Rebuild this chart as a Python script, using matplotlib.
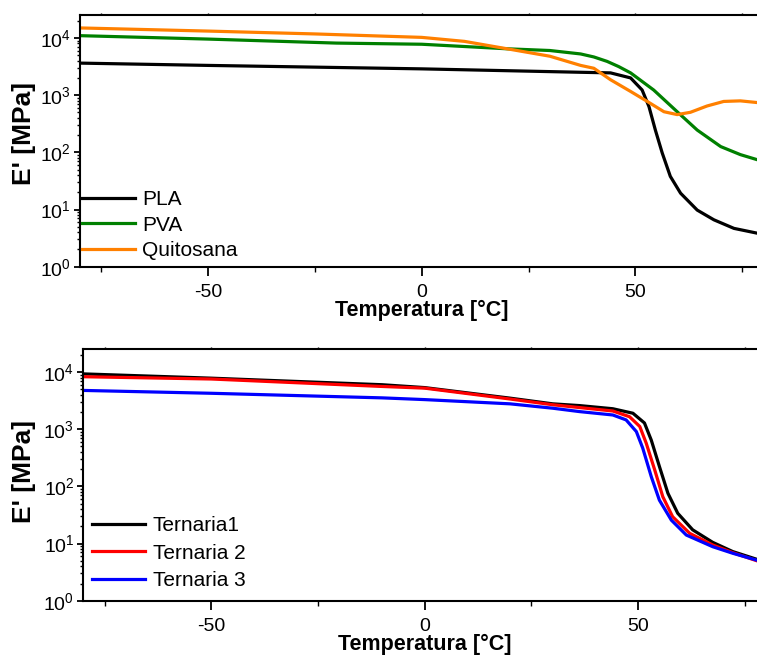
import matplotlib.pyplot as plt
import numpy as np

plt.rcParams['font.family'] = ['Liberation Sans', 'DejaVu Sans']
plt.rcParams['mathtext.fontset'] = 'custom'
plt.rcParams['mathtext.rm'] = 'Liberation Sans'
plt.rcParams['axes.unicode_minus'] = False

# top panel: pure polymers (temperature in degC, E' in MPa)
t_pla = [-80, -50, 0, 37.2, 44.2, 48.9, 51.6, 53.2, 54.7, 56.3, 58.2, 60.6, 64.5, 68.4, 73.1, 78.6, 80]
e_pla = [3630, 3310, 2880, 2510, 2450, 2000, 1230, 631, 245, 97.7, 38.0, 19.3, 9.77, 6.61, 4.68, 3.85, 3.67]

t_pva = [-80, -50, -20, 0, 20, 30, 37.2, 40.3, 43.4, 46.1, 48.9, 54.3, 59.8, 64.5, 70.0, 74.6, 78.6, 80]
e_pva = [10960, 9550, 8130, 7760, 6460, 6030, 5250, 4650, 3890, 3160, 2450, 1230, 513, 245, 126, 91.2, 74.1, 69.2]

t_qui = [-80, -50, -25, 0, 10, 20, 30, 37.2, 40.3, 44.2, 48.9, 52.8, 56.7, 59.8, 62.9, 66.8, 70.7, 74.6, 78.6, 80]
e_qui = [14960, 13180, 11750, 10230, 8710, 6460, 4790, 3310, 2950, 1860, 1160, 776, 513, 457, 501, 646, 776, 794, 741, 724]

# bottom panel: ternary blends
t_t1 = [-80, -50, -10, 0, 20, 30, 36.3, 44.1, 48.8, 51.5, 53.1, 55.0, 57.0, 59.3, 62.8, 67.5, 72.2, 77.8, 80]
e_t1 = [9330, 7850, 6030, 5370, 3510, 2790, 2600, 2290, 1910, 1290, 646, 224, 75.9, 33.9, 17.4, 10.5, 7.24, 5.31, 4.79]

t_t2 = [-80, -50, -10, 0, 20, 30, 36.3, 44.1, 48.0, 50.4, 51.9, 53.9, 55.8, 58.1, 62.1, 67.5, 72.2, 77.8, 80]
e_t2 = [8320, 7590, 5620, 5250, 3390, 2690, 2400, 2090, 1660, 1120, 575, 195, 66.1, 29.5, 15.1, 9.44, 6.92, 5.01, 4.47]

t_t3 = [-80, -50, -10, 0, 20, 30, 36.3, 44.1, 47.2, 49.6, 51.1, 53.1, 55.0, 57.8, 61.3, 67.5, 72.2, 77.8, 80]
e_t3 = [4790, 4270, 3550, 3310, 2790, 2340, 2040, 1780, 1460, 912, 468, 148, 57.5, 25.7, 14.1, 8.81, 6.76, 5.13, 4.68]

top_series = [(t_pla, e_pla, 'black', 'PLA'),
              (t_pva, e_pva, '#008000', 'PVA'),
              (t_qui, e_qui, '#ff8000', 'Quitosana')]
bot_series = [(t_t1, e_t1, 'black', 'Ternaria1'),
              (t_t2, e_t2, '#ff0000', 'Ternaria 2'),
              (t_t3, e_t3, '#0000ff', 'Ternaria 3')]

fig = plt.figure(figsize=(7.57, 6.55), dpi=100)
ax1 = fig.add_axes([0.1057, 0.5928, 0.9028, 0.3842])
ax2 = fig.add_axes([0.1100, 0.0829, 0.9020, 0.3838])

panels = [(ax1, top_series, (0.003, 0.027), 0.30, (-0.065, 0.531)),
          (ax2, bot_series, (0.013, 0.043), 0.40, (-0.069, 0.514))]

for ax, series, anchor, spacing, ylab_xy in panels:
    for t, e, c, lab in series:
        ax.plot(t, e, color=c, lw=2.3, label=lab)
    ax.set_yscale('log')
    ax.set_ylim(1, 10**4.4)
    ax.set_xlim(-80, 80)
    ax.set_xticks([-50, 0, 50])
    ax.set_xticks([-75, -25, 25, 75], minor=True)
    ax.tick_params(axis='y', which='major', direction='out', labelsize=14, length=4.5, width=1.3, pad=2)
    ax.tick_params(axis='y', which='minor', direction='out', length=2.5, width=1)
    ax.tick_params(axis='x', which='major', direction='out', labelsize=14, length=6.5, width=1.3, pad=6)
    ax.tick_params(axis='x', which='minor', direction='out', length=3.5, width=1)
    for s in ax.spines.values():
        s.set_linewidth(1.5)

    # short ticks on the top spine
    top = ax.secondary_xaxis('top')
    top.set_xticks([-75, -50, -25, 0, 25, 50, 75])
    top.tick_params(direction='out', length=1.5, width=1, labeltop=False)
    top.spines['top'].set_visible(False)

    ax.set_xlabel('Temperatura [°C]', fontsize=15.5, fontweight='bold', labelpad=-1)
    ax.set_ylabel("E' [MPa]", fontsize=19, fontweight='bold')
    ax.yaxis.set_label_coords(*ylab_xy)
    ax.legend(loc='lower left', bbox_to_anchor=anchor, frameon=False, fontsize=15,
              handlelength=2.55, handletextpad=0.35, labelspacing=spacing,
              borderpad=0, borderaxespad=0)

fig.savefig('out.png', dpi=100)
